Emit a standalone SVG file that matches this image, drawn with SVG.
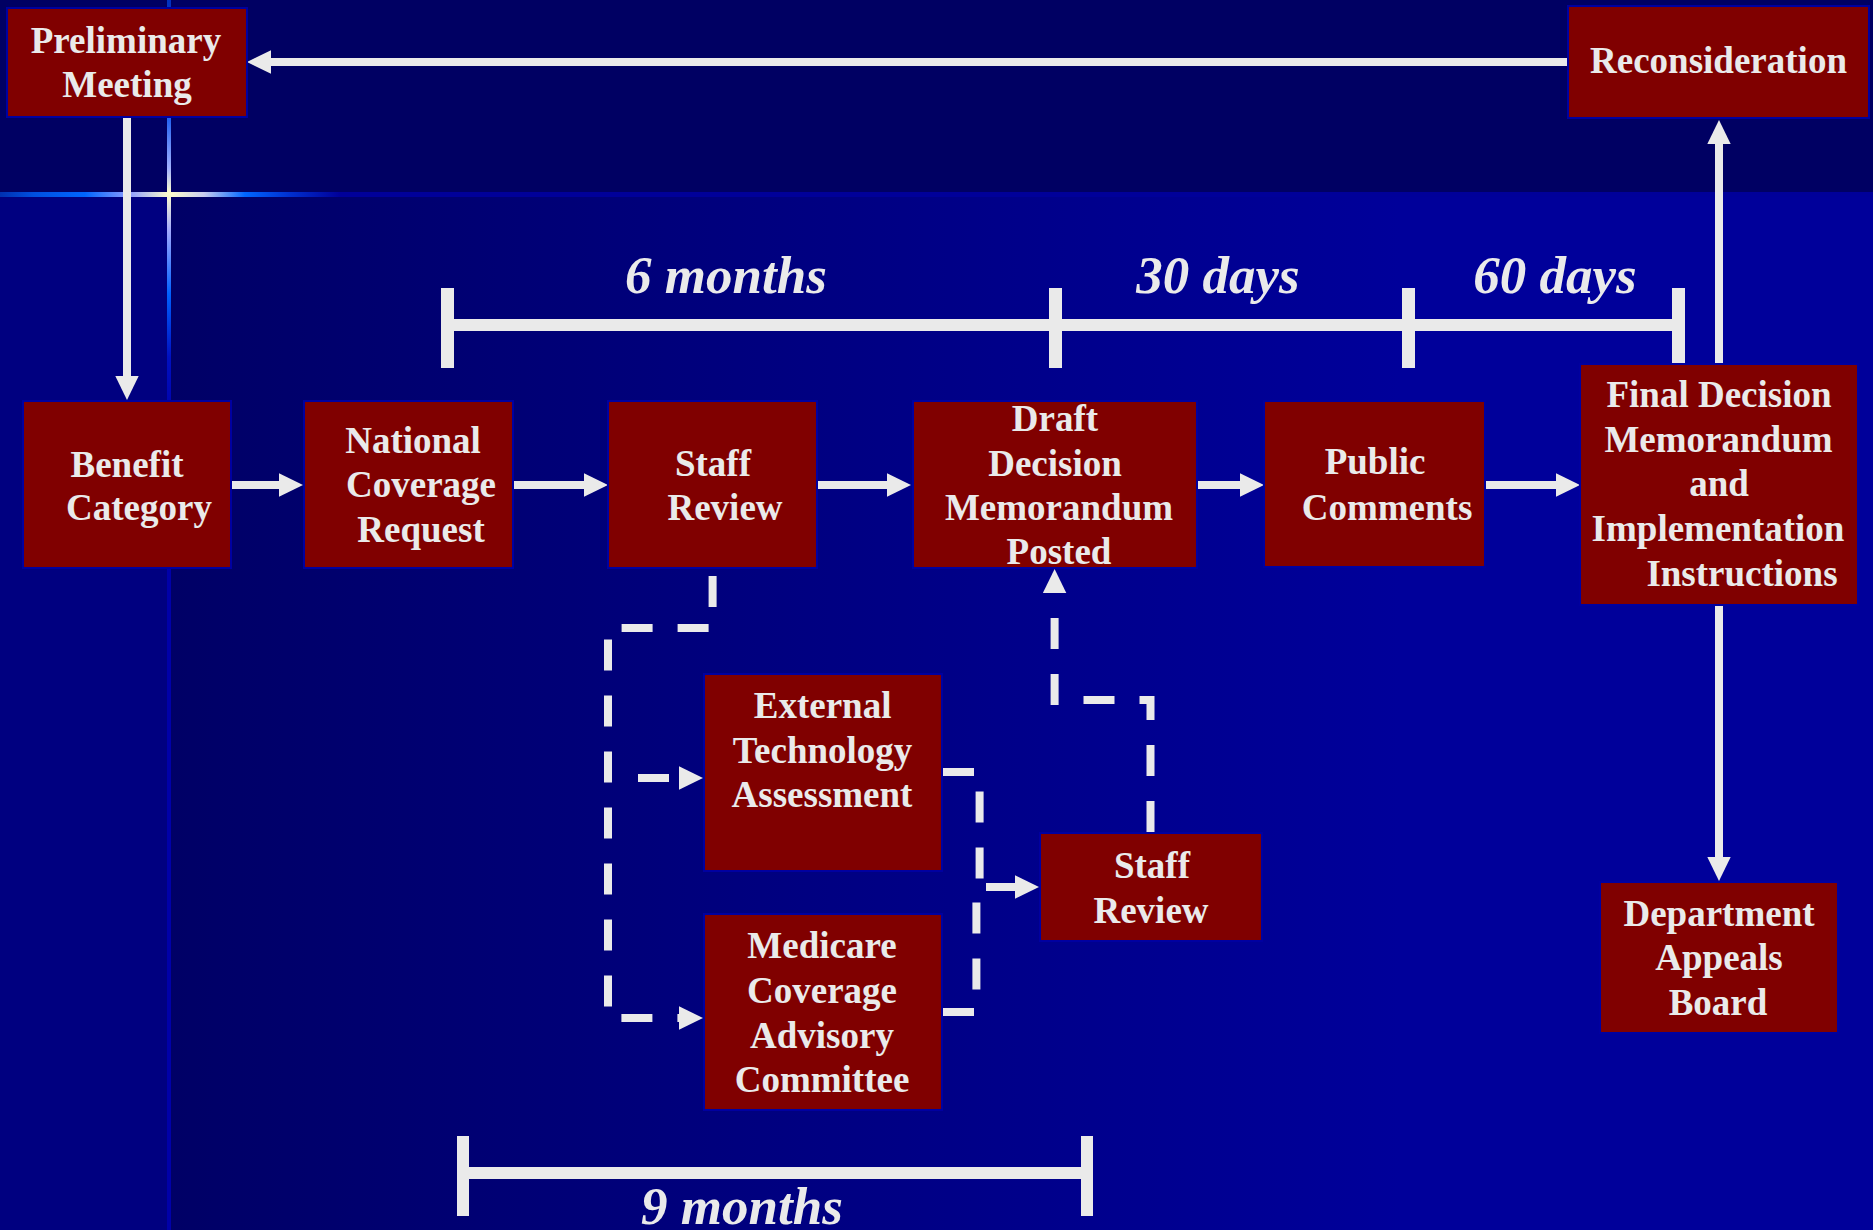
<svg xmlns="http://www.w3.org/2000/svg" width="1873" height="1230" viewBox="0 0 1873 1230">
<style>
.box{fill:#800000;stroke:#0000A0;stroke-width:2}
.lbl{font-family:"Liberation Serif","Times New Roman",serif;font-weight:bold;font-size:37px;fill:#EAEAEA;text-anchor:middle}
.dur{font-family:"Liberation Serif","Times New Roman",serif;font-style:italic;font-weight:bold;font-size:53px;fill:#EAEAEA;text-anchor:middle}
.conn{stroke:#EAEAEA;stroke-width:8;fill:none}
.dash{stroke-dasharray:31 25}
.bar{fill:#EAEAEA}
</style>
<defs>
<marker id="ah" markerUnits="userSpaceOnUse" markerWidth="24" markerHeight="24" refX="0" refY="12" orient="auto" viewBox="0 0 24 24">
<path d="M0,0.3 L24,12 L0,23.7 z" fill="#EAEAEA"/>
</marker>
<linearGradient id="bgLow" gradientUnits="userSpaceOnUse" x1="168" y1="0" x2="1400" y2="0">
<stop offset="0" stop-color="#000066"/>
<stop offset="1" stop-color="#00009A"/>
</linearGradient>
<linearGradient id="glintH" gradientUnits="userSpaceOnUse" x1="0" y1="0" x2="340" y2="0">
<stop offset="0" stop-color="#0030B0"/>
<stop offset="0.1" stop-color="#0050E0"/>
<stop offset="0.25" stop-color="#0066FF"/>
<stop offset="0.38" stop-color="#8C9CFF"/>
<stop offset="0.5" stop-color="#FFFFCC"/>
<stop offset="0.6" stop-color="#C8CCF0"/>
<stop offset="0.72" stop-color="#0066FF"/>
<stop offset="0.85" stop-color="#0030D0"/>
<stop offset="1" stop-color="#000099"/>
</linearGradient>
<linearGradient id="glintV" gradientUnits="userSpaceOnUse" x1="0" y1="0" x2="0" y2="420">
<stop offset="0" stop-color="#0030C0"/>
<stop offset="0.28" stop-color="#2060F0"/>
<stop offset="0.4" stop-color="#A0B0FF"/>
<stop offset="0.46" stop-color="#FFFFCC"/>
<stop offset="0.55" stop-color="#A0A8FF"/>
<stop offset="0.7" stop-color="#0060FF"/>
<stop offset="0.85" stop-color="#0010C0"/>
<stop offset="1" stop-color="#0000A8"/>
</linearGradient>
</defs>

<g id="background">
<rect x="0" y="0" width="1873" height="1230" fill="#000063"/>
<rect x="0" y="196" width="1873" height="1034" fill="url(#bgLow)"/>
<rect x="0" y="196" width="168" height="1034" fill="#000080"/>
<rect x="0" y="192" width="1873" height="5" fill="#000099"/>
<rect x="0" y="192" width="340" height="5" fill="url(#glintH)"/>
<rect x="167" y="420" width="4" height="810" fill="#0000A8"/>
<rect x="167" y="0" width="4" height="420" fill="url(#glintV)"/>
</g>

<g id="timelines">
<rect class="bar" x="447" y="319" width="1231" height="12"/>
<rect class="bar" x="441" y="288" width="13" height="80"/>
<rect class="bar" x="1049" y="288" width="13" height="80"/>
<rect class="bar" x="1402" y="288" width="13" height="80"/>
<rect class="bar" x="1672" y="288" width="13" height="80"/>
<text class="dur" x="726" y="293">6 months</text>
<text class="dur" x="1218" y="293">30 days</text>
<text class="dur" x="1555" y="293">60 days</text>
<rect class="bar" x="463" y="1167" width="624" height="12"/>
<rect class="bar" x="457" y="1136" width="12" height="80"/>
<rect class="bar" x="1081" y="1136" width="12" height="80"/>
<text class="dur" x="742" y="1224">9 months</text>
</g>

<g id="connectors">
<path class="conn" d="M1568,62 H271" marker-end="url(#ah)"/>
<path class="conn" d="M127,117 V376" marker-end="url(#ah)"/>
<path class="conn" d="M231,485 H279" marker-end="url(#ah)"/>
<path class="conn" d="M513,485 H584" marker-end="url(#ah)"/>
<path class="conn" d="M817,485 H887" marker-end="url(#ah)"/>
<path class="conn" d="M1197,485 H1240" marker-end="url(#ah)"/>
<path class="conn" d="M1486,485 H1556" marker-end="url(#ah)"/>
<path class="conn" d="M1719,364 V144" marker-end="url(#ah)"/>
<path class="conn" d="M1719,605 V857" marker-end="url(#ah)"/>
<path class="conn dash" d="M712.6,576 V628 H608 V1018 H679" marker-end="url(#ah)"/>
<path class="conn dash" d="M638,778 H679" marker-end="url(#ah)"/>
<path class="conn dash" d="M943,772 H979.6 V887"/>
<path class="conn dash" d="M943,1012 H976.4 V887"/>
<path class="conn" d="M986,887 H1015" marker-end="url(#ah)"/>
<path class="conn dash" d="M1150.5,832 V700 H1080"/>
<path class="conn dash" d="M1054.6,705 V593" marker-end="url(#ah)"/>
</g>

<g id="preliminary-meeting">
<rect class="box" x="7" y="8" width="240" height="109"/>
<text class="lbl" x="126" y="53">Preliminary</text>
<text class="lbl" x="127" y="97">Meeting</text>
</g>
<g id="reconsideration">
<rect class="box" x="1568" y="6" width="301" height="112"/>
<text class="lbl" x="1718.5" y="73">Reconsideration</text>
</g>
<g id="benefit-category">
<rect class="box" x="23" y="401" width="208" height="167"/>
<text class="lbl" x="127" y="477">Benefit</text>
<text class="lbl" x="139" y="520">Category</text>
</g>
<g id="national-coverage-request">
<rect class="box" x="304" y="401" width="209" height="167"/>
<text class="lbl" x="413" y="453">National</text>
<text class="lbl" x="421" y="497">Coverage</text>
<text class="lbl" x="421" y="542">Request</text>
</g>
<g id="staff-review-1">
<rect class="box" x="608" y="401" width="209" height="167"/>
<text class="lbl" x="713" y="476">Staff</text>
<text class="lbl" x="725" y="520">Review</text>
</g>
<g id="draft-decision">
<rect class="box" x="913" y="401" width="284" height="167"/>
<text class="lbl" x="1055" y="431">Draft</text>
<text class="lbl" x="1055" y="476">Decision</text>
<text class="lbl" x="1059" y="520">Memorandum</text>
<text class="lbl" x="1059" y="564">Posted</text>
</g>
<g id="public-comments">
<rect class="box" x="1264" y="401" width="221" height="166"/>
<text class="lbl" x="1375" y="474">Public</text>
<text class="lbl" x="1387" y="520">Comments</text>
</g>
<g id="final-decision">
<rect class="box" x="1580" y="364" width="278" height="241"/>
<text class="lbl" x="1719" y="407">Final Decision</text>
<text class="lbl" x="1718.5" y="452">Memorandum</text>
<text class="lbl" x="1719" y="496">and</text>
<text class="lbl" x="1718" y="541">Implementation</text>
<text class="lbl" x="1742" y="586">Instructions</text>
</g>
<g id="external-technology-assessment">
<rect class="box" x="704" y="674" width="238" height="197"/>
<text class="lbl" x="822.6" y="718">External</text>
<text class="lbl" x="822.6" y="762.5">Technology</text>
<text class="lbl" x="822" y="807">Assessment</text>
</g>
<g id="medicare-coverage-advisory-committee">
<rect class="box" x="704" y="914" width="238" height="196"/>
<text class="lbl" x="822" y="958">Medicare</text>
<text class="lbl" x="822" y="1003">Coverage</text>
<text class="lbl" x="822" y="1047.5">Advisory</text>
<text class="lbl" x="822" y="1092">Committee</text>
</g>
<g id="staff-review-2">
<rect class="box" x="1040" y="833" width="222" height="108"/>
<text class="lbl" x="1152" y="878">Staff</text>
<text class="lbl" x="1151" y="922.5">Review</text>
</g>
<g id="department-appeals-board">
<rect class="box" x="1600" y="882" width="238" height="151"/>
<text class="lbl" x="1719" y="926">Department</text>
<text class="lbl" x="1719" y="970">Appeals</text>
<text class="lbl" x="1718" y="1015">Board</text>
</g>
</svg>
